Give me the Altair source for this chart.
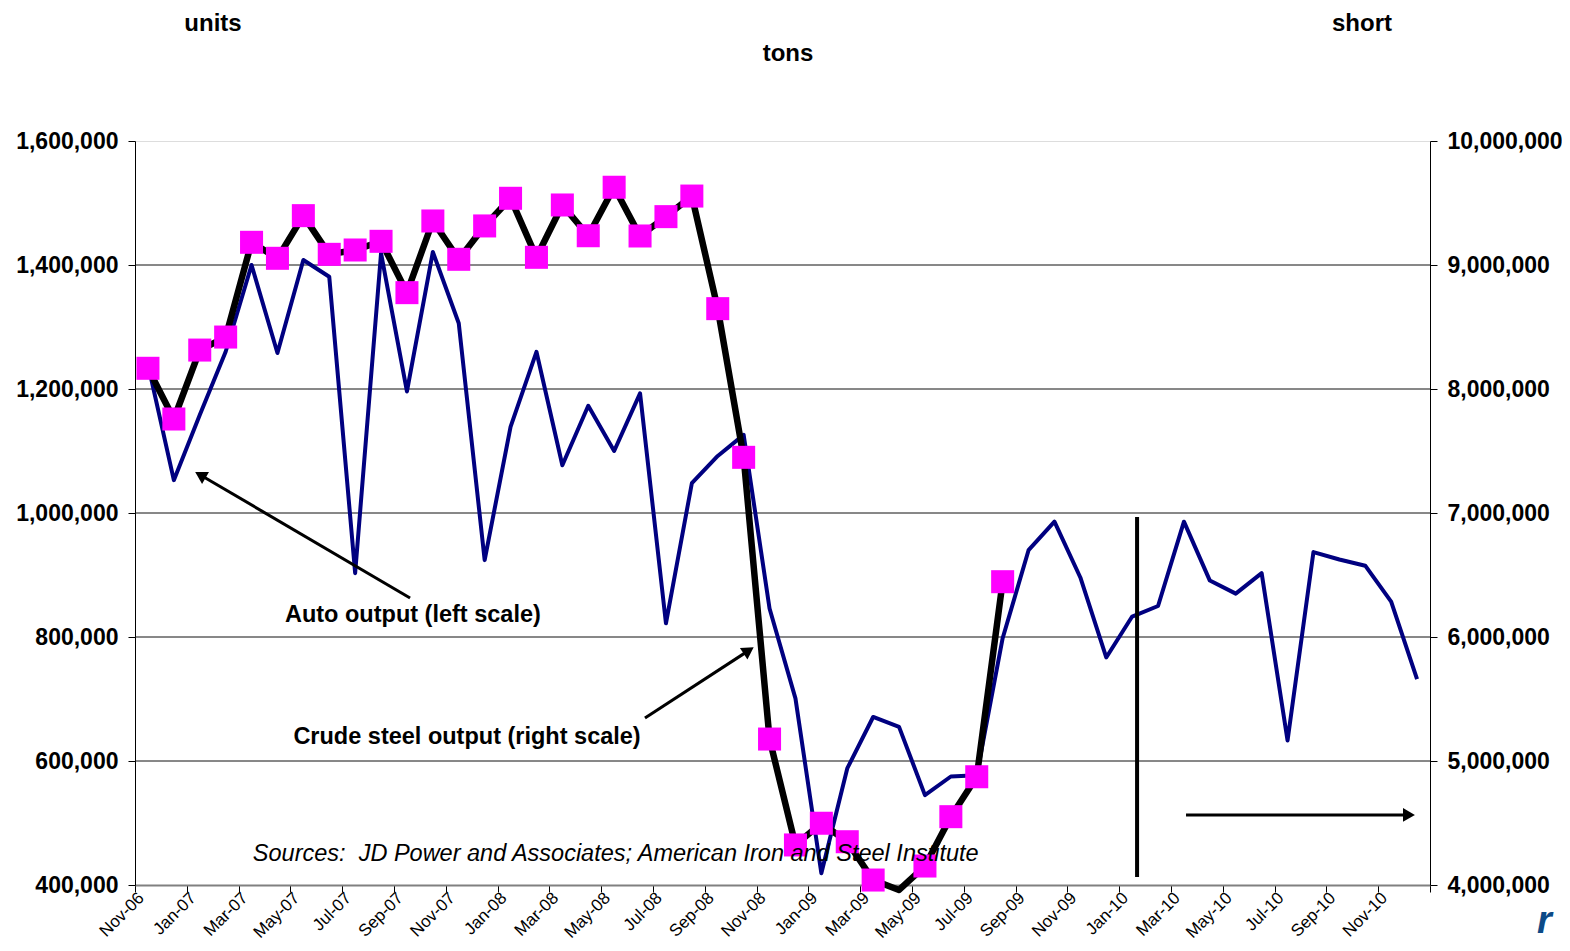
import altair as alt
import pandas as pd

FONT = "Liberation Sans"

months = ["Nov-06", "Dec-06",
          "Jan-07", "Feb-07", "Mar-07", "Apr-07", "May-07", "Jun-07",
          "Jul-07", "Aug-07", "Sep-07", "Oct-07", "Nov-07", "Dec-07",
          "Jan-08", "Feb-08", "Mar-08", "Apr-08", "May-08", "Jun-08",
          "Jul-08", "Aug-08", "Sep-08", "Oct-08", "Nov-08", "Dec-08",
          "Jan-09", "Feb-09", "Mar-09", "Apr-09", "May-09", "Jun-09",
          "Jul-09", "Aug-09", "Sep-09", "Oct-09", "Nov-09", "Dec-09",
          "Jan-10", "Feb-10", "Mar-10", "Apr-10", "May-10", "Jun-10",
          "Jul-10", "Aug-10", "Sep-10", "Oct-10", "Nov-10", "Dec-10"]

# Auto output, units (left scale)
auto_units = [1240000, 1053000, 1158000, 1260000, 1400000, 1258000, 1408000, 1381000,
              903000, 1419000, 1196000, 1421000, 1306000, 924000,
              1139000, 1260000, 1077000, 1173000, 1100000, 1193000,
              822000, 1048000, 1092000, 1126000, 846000, 701000,
              419000, 588000, 671000, 655000, 545000, 575000,
              577000, 798000, 940000, 986000, 896000, 767000,
              833000, 850000, 986000, 891000, 870000, 903000,
              633000, 937000, 925000, 915000, 857000, 732000]

# Crude steel output, short tons (right scale), Nov-06 .. Aug-09
steel_tons = [8167000, 7758000, 8314000, 8419000, 9183000, 9054000, 9398000, 9086000,
              9121000, 9191000, 8777000, 9355000, 9046000, 9315000,
              9538000, 9062000, 9484000, 9236000, 9627000, 9234000,
              9390000, 9556000, 8648000, 7449000, 5177000, 4323000,
              4498000, 4349000, 4040000, 3960000, 4153000, 4551000,
              4873000, 6446000]

left_ticks = [400000, 600000, 800000, 1000000, 1200000, 1400000, 1600000]
right_ticks = [4000000, 5000000, 6000000, 7000000, 8000000, 9000000, 10000000]
grid_values = [600000, 800000, 1000000, 1200000, 1400000]

W, H = 1295, 744
LEFT_DOM = [400000, 1600000]
RIGHT_DOM = [4000000, 10000000]
X_DOM = [-0.5, 49.5]

df_auto = pd.DataFrame({"i": list(range(len(auto_units))), "auto": auto_units})
df_steel = pd.DataFrame({"i": list(range(len(steel_tons))), "steel": steel_tons})
df_grid = pd.DataFrame({"g": grid_values})

tick_vals = [-0.5 + 2 * k for k in range(26)]
label_arr = months[::2] + [""]
label_expr = ("[" + ",".join("'" + m + "'" for m in label_arr) +
              "][round((datum.value + 0.5) / 2)]")

xscale = alt.Scale(domain=X_DOM, nice=False, zero=False)
left_scale = alt.Scale(domain=LEFT_DOM, nice=False, zero=False)
right_scale = alt.Scale(domain=RIGHT_DOM, nice=False, zero=False)

x_axis = alt.Axis(values=tick_vals, labelExpr=label_expr, labelAngle=-45,
                  labelAlign="right", labelBaseline="middle", labelOffset=6,
                  labelPadding=3, tickSize=7, tickColor="black", domainColor="#808080",
                  domainWidth=2, labelFont=FONT, labelFontSize=17, labelColor="black",
                  grid=False, title=None, labelOverlap=False, labelFlush=False)


def X(field="i"):
    return alt.X(field + ":Q", scale=xscale, axis=x_axis, title=None)


left_axis = alt.Axis(orient="left", values=left_ticks, format=",d", tickSize=7,
                     tickColor="black", domainColor="black", labelFont=FONT,
                     labelFontSize=23, labelFontWeight="bold", labelColor="black",
                     labelPadding=10, grid=False, title=None)
right_axis = alt.Axis(orient="right", values=right_ticks, format=",d", tickSize=7,
                      tickColor="black", domainColor="black", labelFont=FONT,
                      labelFontSize=23, labelFontWeight="bold", labelColor="black",
                      labelPadding=10, grid=False, title=None)

grid = alt.Chart(df_grid).mark_rule(color="#111111", strokeWidth=1).encode(
    y=alt.Y("g:Q", scale=left_scale, axis=None))

auto_line = alt.Chart(df_auto).mark_line(color="#000080", strokeWidth=4, strokeJoin="round").encode(
    x=X("i"), y=alt.Y("auto:Q", scale=left_scale, axis=left_axis))

steel_line = alt.Chart(df_steel).mark_line(color="black", strokeWidth=6.5, strokeJoin="round").encode(
    x=X("i"), y=alt.Y("steel:Q", scale=right_scale, axis=right_axis))

steel_pts = alt.Chart(df_steel).transform_filter(
    alt.datum.steel >= RIGHT_DOM[0]
).mark_point(shape="square", filled=True, color="#FF00FF", opacity=1, size=530).encode(
    x=X("i"), y=alt.Y("steel:Q", scale=right_scale, axis=None))

# annotations (left-scale coordinates)
df_arrows = pd.DataFrame({
    "x": [10.12, 19.19, 40.08],
    "y": [863000, 669400, 513000],
    "x2": [2.09, 23.13, 48.61],
    "y2": [1059700, 776400, 513000],
    "ang": [300, 57, 90],
})
arrow_lines = alt.Chart(df_arrows).mark_rule(color="black", strokeWidth=3).encode(
    x=X("x"), x2="x2:Q", y=alt.Y("y:Q", scale=left_scale, axis=None), y2="y2:Q")
arrow_heads = alt.Chart(df_arrows).mark_point(shape="triangle", filled=True, color="black",
                                             opacity=1, size=190).encode(
    x=X("x2"), y=alt.Y("y2:Q", scale=left_scale, axis=None),
    angle=alt.Angle("ang:Q", scale=None))

df_vline = pd.DataFrame({"x": [38.19], "y": [993500], "y2": [413000]})
vline = alt.Chart(df_vline).mark_rule(color="black", strokeWidth=4).encode(
    x=X("x"), y=alt.Y("y:Q", scale=left_scale, axis=None), y2="y2:Q")

df_labels = pd.DataFrame({
    "x": [10.23, 12.32],
    "y": [835500, 638700],
    "t": ["Auto output (left scale)", "Crude steel output (right scale)"],
})
labels = alt.Chart(df_labels).mark_text(font=FONT, fontSize=23.5, fontWeight="bold",
                                        color="black", align="center", baseline="middle").encode(
    x=X("x"), y=alt.Y("y:Q", scale=left_scale, axis=None), text="t:N")

df_src = pd.DataFrame({"x": [4.05], "y": [450000],
                       "t": ["Sources:\u00a0 JD Power and Associates; American Iron and Steel Institute"]})
source = alt.Chart(df_src).mark_text(font=FONT, fontSize=23.5, fontStyle="italic", color="black",
                                     align="left", baseline="middle").encode(
    x=X("x"), y=alt.Y("y:Q", scale=left_scale, axis=None), text="t:N")


def title_text(txt, px, py):
    return alt.Chart(pd.DataFrame({"t": [txt]})).mark_text(
        font=FONT, fontSize=24, fontWeight="bold", color="black",
        align="center", baseline="middle").encode(
        x=alt.value(px), y=alt.value(py), text="t:N")


t_units = title_text("units", 78, -117)
t_short = title_text("short", 1227, -117)
t_tons = title_text("tons", 653, -87)

logo = alt.Chart(pd.DataFrame({"t": ["r"]})).mark_text(
    font=FONT, fontSize=38, fontWeight="bold", fontStyle="italic", color="#0C4A87",
    align="left", baseline="alphabetic").encode(
    x=alt.value(1402), y=alt.value(792), text="t:N")

chart = alt.layer(
    grid, auto_line, steel_line, steel_pts, vline, arrow_lines, arrow_heads,
    labels, source, t_units, t_short, t_tons, logo
).resolve_scale(y="independent").properties(
    width=W, height=H,
    autosize=alt.AutoSizeParams(type="none"),
    padding={"left": 127, "top": 133, "right": 132, "bottom": 58},
    background="white",
).configure_view(stroke=None).configure(font=FONT)

chart.save("out.html", embed_options={"renderer": "svg", "actions": False})
